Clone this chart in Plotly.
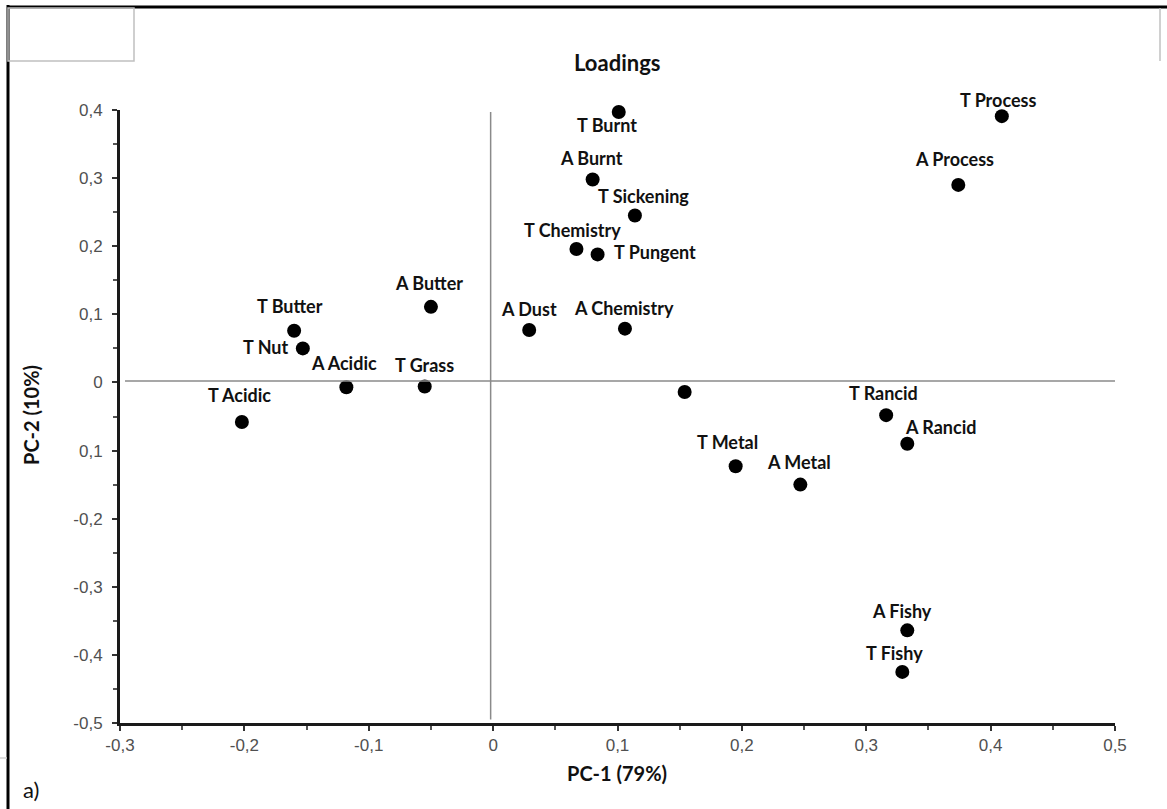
import plotly.graph_objects as go

# ---- data ----
labels = ["T Process", "A Process", "T Burnt", "A Burnt", "T Sickening", "T Chemistry",
          "T Pungent", "A Dust", "A Chemistry", "T Butter", "T Nut", "A Acidic",
          "T Grass", "A Butter", "T Acidic", "", "T Rancid", "A Rancid", "T Metal",
          "A Metal", "A Fishy", "T Fishy"]
pc1 = [0.409, 0.374, 0.101, 0.080, 0.114, 0.067, 0.084, 0.029, 0.106, -0.160, -0.153,
       -0.118, -0.055, -0.050, -0.202, 0.154, 0.316, 0.333, 0.195, 0.247, 0.333, 0.329]
pc2 = [0.391, 0.290, 0.397, 0.298, 0.245, 0.196, 0.188, 0.077, 0.079, 0.076, 0.050,
       -0.007, -0.006, 0.111, -0.058, -0.014, -0.048, -0.090, -0.123, -0.150, -0.364, -0.425]
x_ticks = [-0.3, -0.2, -0.1, 0, 0.1, 0.2, 0.3, 0.4, 0.5]
x_ticktext = ["-0,3", "-0,2", "-0,1", "0", "0,1", "0,2", "0,3", "0,4", "0,5"]
y_ticks = [0.4, 0.3, 0.2, 0.1, 0, -0.1, -0.2, -0.3, -0.4, -0.5]
y_ticktext = ["0,4", "0,3", "0,2", "0,1", "0", "0,1", "-0,2", "-0,3", "-0,4", "-0,5"]

# label placement (pixel offsets from the dot: dx, dy down, anchor)
label_pos = {
    "T Process": (-4, -16, "center"), "A Process": (-4, -26, "center"),
    "T Burnt": (-12, 13, "center"), "A Burnt": (-1, -21, "center"),
    "T Sickening": (9, -20, "center"), "T Chemistry": (-4, -19, "center"),
    "T Pungent": (14, -2, "left"), "A Dust": (0, -21, "center"),
    "A Chemistry": (-1, -21, "center"), "T Butter": (-4, -25, "center"),
    "T Nut": (-13, -1, "right"), "A Acidic": (-2, -24, "center"),
    "T Grass": (0, -22, "center"), "A Butter": (-2, -24, "center"),
    "T Acidic": (-2, -27, "center"), "T Rancid": (-3, -22, "center"),
    "A Rancid": (-4, -17, "left"), "T Metal": (-8, -24, "center"),
    "A Metal": (-1, -23, "center"), "A Fishy": (-5, -19, "center"),
    "T Fishy": (-8, -19, "center"),
}

W, H = 1167, 809
L, R, T, B = 120, 1115, 110, 723

def px(x):
    return (x - L) / (R - L)

def py(y):
    return (B - y) / (B - T)

fig = go.Figure()
fig.add_trace(go.Scatter(x=pc1, y=pc2, mode="markers", cliponaxis=False,
                         marker=dict(color="black", size=14), hoverinfo="skip",
                         showlegend=False))

label_font = dict(family="Lato", size=18, color="#111111", weight="bold")
for lab, x, y in zip(labels, pc1, pc2):
    if not lab:
        continue
    dx, dy, anc = label_pos[lab]
    fig.add_annotation(x=x, y=y, text=lab, showarrow=False, xanchor=anc,
                       yanchor="middle", xshift=dx, yshift=-dy, font=label_font)

shapes = [
    # zero lines
    dict(type="line", xref="x", yref="y", x0=-0.296, x1=0.5, y0=0.002, y1=0.002,
         line=dict(color="#8a8a8a", width=1.5)),
    dict(type="line", xref="x", yref="y", x0=-0.002, x1=-0.002, y0=-0.495, y1=0.397,
         line=dict(color="#8a8a8a", width=1.5)),
    # outer frame
    dict(type="line", xref="paper", yref="paper", x0=px(8), x1=px(8), y0=py(5), y1=py(812),
         line=dict(color="black", width=3)),
    dict(type="line", xref="paper", yref="paper", x0=px(7), x1=px(1170), y0=py(7), y1=py(7),
         line=dict(color="black", width=3)),
    dict(type="rect", xref="paper", yref="paper", x0=px(8), x1=px(134), y0=py(8), y1=py(61),
         line=dict(color="#c0c0c0", width=1.5)),
    dict(type="line", xref="paper", yref="paper", x0=px(1160), x1=px(1160), y0=py(8), y1=py(61),
         line=dict(color="#c0c0c0", width=1.5)),
    dict(type="line", xref="paper", yref="paper", x0=px(0), x1=px(7), y0=py(758), y1=py(758),
         line=dict(color="#d0d0d0", width=1.5)),
]

tick_font = dict(family="Liberation Sans", size=17, color="#505050")

fig.update_layout(
    width=W, height=H,
    margin=dict(l=L, r=W - R, t=T, b=H - B),
    paper_bgcolor="white", plot_bgcolor="white",
    showlegend=False,
    shapes=shapes,
    xaxis=dict(range=[-0.3, 0.5], showgrid=False, zeroline=False,
               showline=True, linecolor="#1a1a1a", linewidth=3,
               ticks="outside", ticklen=5, tickwidth=2, tickcolor="#333333",
               tickvals=x_ticks, ticktext=x_ticktext, tickfont=tick_font,
               minor=dict(ticks="outside", ticklen=4, tickwidth=2, tickcolor="#555555",
                          dtick=0.05, tick0=0, showgrid=False)),
    yaxis=dict(range=[-0.5, 0.4], showgrid=False, zeroline=False,
               showline=True, linecolor="#1a1a1a", linewidth=3,
               ticks="outside", ticklen=5, tickwidth=2, tickcolor="#333333",
               tickvals=y_ticks, ticktext=y_ticktext, tickfont=tick_font,
               ticklabelstandoff=6,
               minor=dict(ticks="outside", ticklen=4, tickwidth=2, tickcolor="#555555",
                          dtick=0.05, tick0=0, showgrid=False)),
)

# title and axis titles as text
fig.add_annotation(xref="paper", yref="paper", x=px(617), y=py(62), text="<b>Loadings</b>",
                   showarrow=False, xanchor="center", yanchor="middle",
                   font=dict(family="Lato", size=22, color="#111111"))
fig.add_annotation(xref="paper", yref="paper", x=px(617), y=py(773), text="<b>PC-1 (79%)</b>",
                   showarrow=False, xanchor="center", yanchor="middle",
                   font=dict(family="Lato", size=20, color="#111111"))
fig.add_annotation(xref="paper", yref="paper", x=px(31), y=py(415), text="<b>PC-2 (10%)</b>",
                   showarrow=False, xanchor="center", yanchor="middle", textangle=-90,
                   font=dict(family="Lato", size=20, color="#111111"))
fig.add_annotation(xref="paper", yref="paper", x=px(21), y=py(789), text="a)",
                   showarrow=False, xanchor="left", yanchor="middle",
                   font=dict(family="Lato", size=22, color="#111111"))

fig.write_html("out.html", config={"displayModeBar": False},
               post_script="document.body.style.margin='0px';")
